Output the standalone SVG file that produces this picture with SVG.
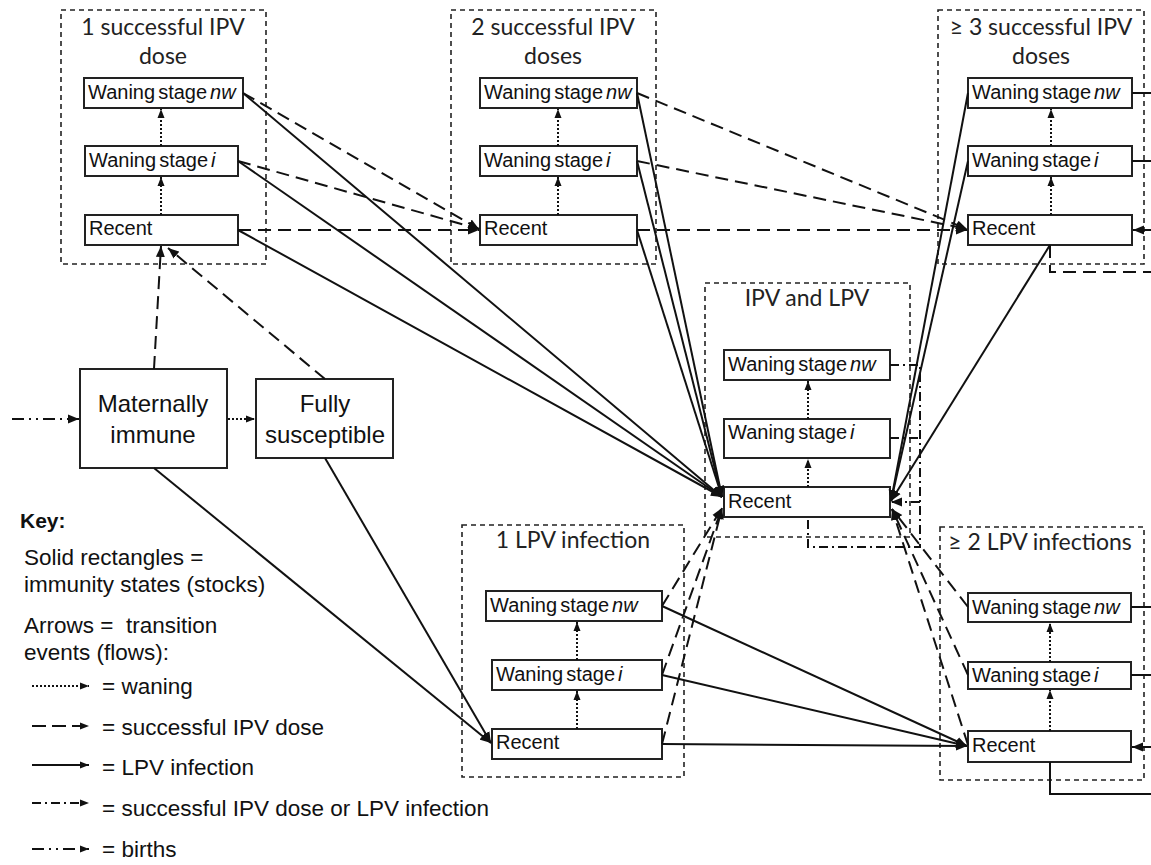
<svg xmlns="http://www.w3.org/2000/svg" width="1151" height="865" viewBox="0 0 1151 865">
<defs>
<marker id="ah" markerUnits="userSpaceOnUse" markerWidth="12" markerHeight="10" refX="11" refY="5" orient="auto"><path d="M0,0.5 L11,5 L0,9.5 z" fill="#111"/></marker>
<marker id="ahs" markerUnits="userSpaceOnUse" markerWidth="10" markerHeight="8" refX="9" refY="4" orient="auto"><path d="M0,0.5 L9,4 L0,7.5 z" fill="#111"/></marker>
<style>
.grp{fill:none;stroke:#222;stroke-width:1.6;stroke-dasharray:5 4}
.st{fill:#fff;stroke:#222;stroke-width:2}
.big{fill:#fff;stroke:#222;stroke-width:2}
.ttl{font-family:Lato,"Liberation Sans",sans-serif;font-size:23px;fill:#222;text-anchor:middle}
.lbl{font-family:"Liberation Sans",Arial,sans-serif;font-size:20px;fill:#111;word-spacing:-2.5px}
.big-t{font-family:"Liberation Sans",Arial,sans-serif;font-size:24px;fill:#111;text-anchor:middle}
.key{font-family:"Liberation Sans",Arial,sans-serif;font-size:22.5px;fill:#111}
.sol{fill:none;stroke:#111;stroke-width:2}
.ipv{fill:none;stroke:#111;stroke-width:2;stroke-dasharray:13 7}
.wan{fill:none;stroke:#111;stroke-width:2;stroke-dasharray:2 2}
.dd{fill:none;stroke:#111;stroke-width:2;stroke-dasharray:9 4 2 4}
.bir{fill:none;stroke:#111;stroke-width:2;stroke-dasharray:12 5 2 5 2 5}
</style>
</defs>
<rect width="1151" height="865" fill="#fff"/>

<g id="ipv1">
<rect class="grp" x="61" y="10" width="205" height="254"/>
<text class="ttl" x="163" y="35">1 successful IPV</text>
<text class="ttl" x="163" y="64">dose</text>
<rect class="st" x="84" y="78" width="159" height="30"/>
<text class="lbl" x="88" y="99">Waning stage <tspan font-style="italic">nw</tspan></text>
<rect class="st" x="85" y="146" width="153" height="30"/>
<text class="lbl" x="89" y="167">Waning stage <tspan font-style="italic">i</tspan></text>
<rect class="st" x="85" y="215" width="153" height="30"/>
<text class="lbl" x="89" y="235">Recent</text>
</g>

<g id="ipv2">
<rect class="grp" x="451" y="10" width="205" height="254"/>
<text class="ttl" x="553" y="35">2 successful IPV</text>
<text class="ttl" x="553" y="64">doses</text>
<rect class="st" x="480" y="78" width="157" height="30"/>
<text class="lbl" x="484" y="99">Waning stage <tspan font-style="italic">nw</tspan></text>
<rect class="st" x="480" y="146" width="157" height="30"/>
<text class="lbl" x="484" y="167">Waning stage <tspan font-style="italic">i</tspan></text>
<rect class="st" x="480" y="215" width="157" height="30"/>
<text class="lbl" x="484" y="235">Recent</text>
</g>

<g id="ipv3">
<rect class="grp" x="938" y="10" width="206" height="254"/>
<text class="ttl" x="1041" y="35">≥ 3 successful IPV</text>
<text class="ttl" x="1041" y="64">doses</text>
<rect class="st" x="968" y="78" width="164" height="30"/>
<text class="lbl" x="972" y="99">Waning stage <tspan font-style="italic">nw</tspan></text>
<rect class="st" x="968" y="146" width="164" height="30"/>
<text class="lbl" x="972" y="167">Waning stage <tspan font-style="italic">i</tspan></text>
<rect class="st" x="968" y="215" width="164" height="30"/>
<text class="lbl" x="972" y="235">Recent</text>
</g>

<g id="mixed">
<rect class="grp" x="705" y="283" width="205" height="254"/>
<text class="ttl" x="807" y="306">IPV and LPV</text>
<rect class="st" x="724" y="350" width="166" height="30"/>
<text class="lbl" x="728" y="371">Waning stage <tspan font-style="italic">nw</tspan></text>
<rect class="st" x="724" y="419" width="166" height="39"/>
<text class="lbl" x="728" y="439">Waning stage <tspan font-style="italic">i</tspan></text>
<rect class="st" x="724" y="487" width="166" height="30"/>
<text class="lbl" x="728" y="508">Recent</text>
</g>

<g id="lpv1">
<rect class="grp" x="462" y="525" width="222" height="252"/>
<text class="ttl" x="573" y="548">1 LPV infection</text>
<rect class="st" x="486" y="591" width="176" height="30"/>
<text class="lbl" x="490" y="612">Waning stage <tspan font-style="italic">nw</tspan></text>
<rect class="st" x="492" y="660" width="170" height="30"/>
<text class="lbl" x="496" y="681">Waning stage <tspan font-style="italic">i</tspan></text>
<rect class="st" x="492" y="729" width="170" height="30"/>
<text class="lbl" x="496" y="749">Recent</text>
</g>

<g id="lpv2">
<rect class="grp" x="940" y="527" width="204" height="253"/>
<text class="ttl" x="1040" y="550">≥ 2 LPV infections</text>
<rect class="st" x="968" y="593" width="163" height="29"/>
<text class="lbl" x="972" y="614">Waning stage <tspan font-style="italic">nw</tspan></text>
<rect class="st" x="968" y="662" width="163" height="27"/>
<text class="lbl" x="972" y="682">Waning stage <tspan font-style="italic">i</tspan></text>
<rect class="st" x="968" y="731" width="163" height="31"/>
<text class="lbl" x="972" y="752">Recent</text>
</g>

<g id="maternal">
<rect class="big" x="80" y="369" width="147" height="99"/>
<text class="big-t" x="153" y="412">Maternally</text>
<text class="big-t" x="153" y="443">immune</text>
</g>

<g id="susceptible">
<rect class="big" x="256" y="379" width="137" height="79"/>
<text class="big-t" x="325" y="412">Fully</text>
<text class="big-t" x="325" y="443">susceptible</text>
</g>

<g id="connectors">
<path class="wan" d="M161,215 V177" marker-end="url(#ahs)"/>
<path class="wan" d="M161,146 V109" marker-end="url(#ahs)"/>
<path class="wan" d="M558,215 V177" marker-end="url(#ahs)"/>
<path class="wan" d="M558,146 V109" marker-end="url(#ahs)"/>
<path class="wan" d="M1051,215 V177" marker-end="url(#ahs)"/>
<path class="wan" d="M1051,146 V109" marker-end="url(#ahs)"/>
<path class="wan" d="M808,487 V459" marker-end="url(#ahs)"/>
<path class="wan" d="M808,419 V381" marker-end="url(#ahs)"/>
<path class="wan" d="M577,729 V691" marker-end="url(#ahs)"/>
<path class="wan" d="M577,660 V622" marker-end="url(#ahs)"/>
<path class="wan" d="M1050,731 V690" marker-end="url(#ahs)"/>
<path class="wan" d="M1050,662 V623" marker-end="url(#ahs)"/>

<path class="bir" d="M12,419 H79" marker-end="url(#ah)"/>
<path class="wan" d="M228,419 H255" marker-end="url(#ahs)"/>

<path class="ipv" d="M154,369 L161,246" marker-end="url(#ah)"/>
<path class="ipv" d="M325,379 L168,248" marker-end="url(#ah)"/>
<path class="sol" d="M154,468 L491,743" marker-end="url(#ah)"/>
<path class="sol" d="M325,458 L491,743" marker-end="url(#ah)"/>

<path class="ipv" d="M243,93 L479,229" marker-end="url(#ah)"/>
<path class="ipv" d="M238,161 L479,229" marker-end="url(#ah)"/>
<path class="ipv" d="M238,230 H479" marker-end="url(#ah)"/>
<path class="sol" d="M243,93 L722,497" marker-end="url(#ah)"/>
<path class="sol" d="M238,161 L722,497" marker-end="url(#ah)"/>
<path class="sol" d="M238,230 L722,497" marker-end="url(#ah)"/>

<path class="ipv" d="M637,93 L967,229" marker-end="url(#ah)"/>
<path class="ipv" d="M637,161 L967,229" marker-end="url(#ah)"/>
<path class="ipv" d="M637,230 H967" marker-end="url(#ah)"/>
<path class="sol" d="M637,93 L722,497" marker-end="url(#ah)"/>
<path class="sol" d="M637,161 L722,497" marker-end="url(#ah)"/>
<path class="sol" d="M637,230 L722,497" marker-end="url(#ah)"/>

<path class="sol" d="M968,93 L891,501" marker-end="url(#ah)"/>
<path class="sol" d="M968,161 L891,501" marker-end="url(#ah)"/>
<path class="sol" d="M1050,245 L891,501" marker-end="url(#ah)"/>
<path class="sol" d="M1132,93 H1151"/>
<path class="sol" d="M1132,161 H1151"/>
<path class="sol" d="M1151,230 H1133" marker-end="url(#ah)"/>
<path class="ipv" d="M1050,245 V272 H1151"/>

<path class="dd" d="M890,365 H920 V547 H808 V517"/>
<path class="dd" d="M890,438 H920"/>
<path class="dd" d="M920,502 H891" marker-end="url(#ah)"/>

<path class="ipv" d="M662,606 L722,508" marker-end="url(#ah)"/>
<path class="ipv" d="M662,675 L722,508" marker-end="url(#ah)"/>
<path class="ipv" d="M662,744 L722,508" marker-end="url(#ah)"/>
<path class="sol" d="M662,606 L967,746" marker-end="url(#ah)"/>
<path class="sol" d="M662,675 L967,746" marker-end="url(#ah)"/>
<path class="sol" d="M662,744 L967,746" marker-end="url(#ah)"/>

<path class="ipv" d="M968,607 L892,509" marker-end="url(#ah)"/>
<path class="ipv" d="M968,675 L892,509" marker-end="url(#ah)"/>
<path class="ipv" d="M968,745 L892,509" marker-end="url(#ah)"/>
<path class="sol" d="M1131,607 H1151"/>
<path class="sol" d="M1131,675 H1151"/>
<path class="sol" d="M1151,747 H1132" marker-end="url(#ah)"/>
<path class="sol" d="M1050,762 V794 H1151"/>
</g>

<g id="key">
<text x="20" y="528" font-family="Liberation Sans, Arial, sans-serif" font-size="21" font-weight="bold" fill="#111">Key:</text>
<text class="key" x="24" y="565">Solid rectangles =</text>
<text class="key" x="24" y="592">immunity states (stocks)</text>
<text class="key" x="24" y="633">Arrows = &#160;transition</text>
<text class="key" x="24" y="660">events (flows):</text>
<path class="wan" d="M32,686 H89" marker-end="url(#ahs)"/>
<text class="key" x="102" y="694">= waning</text>
<path class="ipv" d="M32,726 H89" marker-end="url(#ahs)" style="stroke-dasharray:14 6"/>
<text class="key" x="102" y="735">= successful IPV dose</text>
<path class="sol" d="M32,765 H89" marker-end="url(#ahs)"/>
<text class="key" x="102" y="775">= LPV infection</text>
<path class="dd" d="M32,803 H89" marker-end="url(#ahs)"/>
<text class="key" x="102" y="816">= successful IPV dose or LPV infection</text>
<path class="bir" d="M32,849 H89" marker-end="url(#ahs)"/>
<text class="key" x="102" y="857">= births</text>
</g>
</svg>
